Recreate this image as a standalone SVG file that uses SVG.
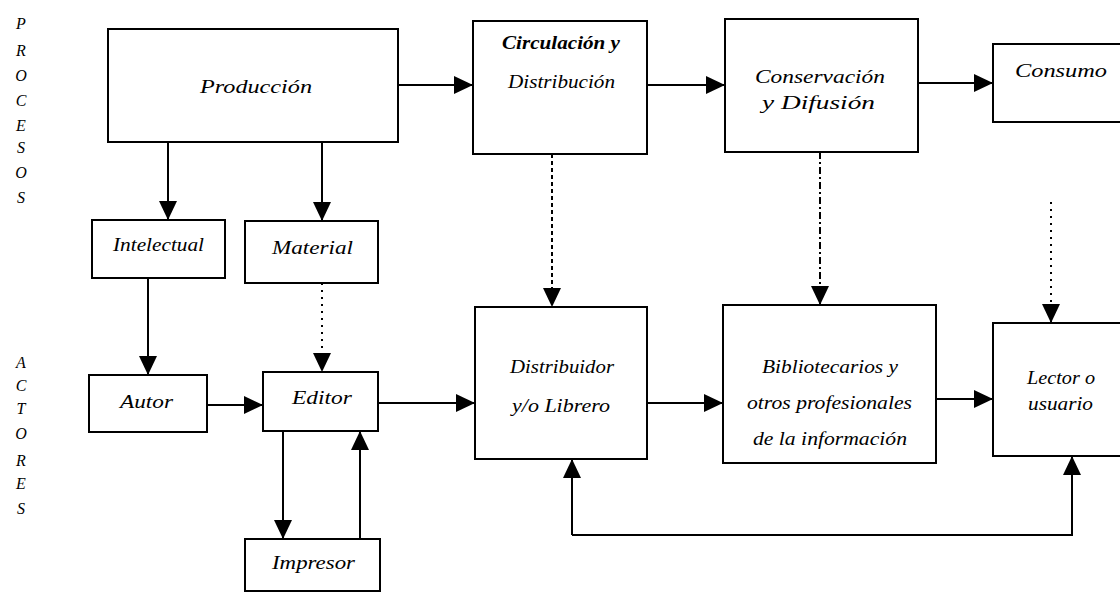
<svg xmlns="http://www.w3.org/2000/svg" width="1120" height="594" viewBox="0 0 1120 594">
<defs>
<marker id="arr" markerUnits="userSpaceOnUse" markerWidth="20" markerHeight="18" refX="19" refY="9" orient="auto">
<path d="M0,0 L19,9 L0,18 Z" fill="#000"/>
</marker>
<style>
.box{fill:#fff;stroke:#000;stroke-width:2}
.t{font-family:"Liberation Serif","Times New Roman",serif;font-style:italic;font-size:18px;fill:#000}
.side{font-family:"Liberation Serif","Times New Roman",serif;font-style:italic;font-size:16px;fill:#000;text-anchor:middle}
.ln{fill:none;stroke:#000;stroke-width:2}
.arr{marker-end:url(#arr)}
.d1{stroke-dasharray:4 3}
.d2{stroke-dasharray:7 3 2 3}
.d3{stroke-dasharray:2 5}
</style>
</defs>
<rect width="1120" height="594" fill="#fff"/>

<g id="side-procesos">
<text class="side" x="21" y="29">P</text>
<text class="side" x="21" y="56">R</text>
<text class="side" x="21" y="81">O</text>
<text class="side" x="21" y="106">C</text>
<text class="side" x="21" y="131">E</text>
<text class="side" x="21" y="153">S</text>
<text class="side" x="21" y="178">O</text>
<text class="side" x="21" y="203">S</text>
</g>
<g id="side-actores">
<text class="side" x="21" y="368">A</text>
<text class="side" x="21" y="391">C</text>
<text class="side" x="21" y="414">T</text>
<text class="side" x="21" y="439">O</text>
<text class="side" x="21" y="466">R</text>
<text class="side" x="21" y="489">E</text>
<text class="side" x="21" y="514">S</text>
</g>

<g id="connectors">
<path class="ln arr" d="M398,85 H473"/>
<path class="ln arr" d="M647,85 H725"/>
<path class="ln arr" d="M918,83 H993"/>
<path class="ln arr" d="M168,142 V220"/>
<path class="ln arr" d="M322,142 V221"/>
<path class="ln arr" d="M148,278 V375"/>
<path class="ln arr d3" d="M322,283 V372"/>
<path class="ln arr" d="M207,405 H263"/>
<path class="ln arr" d="M378,403 H475"/>
<path class="ln arr" d="M283,431 V539"/>
<path class="ln arr" d="M360,539 V431"/>
<path class="ln arr d1" d="M552,154 V307"/>
<path class="ln arr d2" d="M820,152 V305"/>
<path class="ln arr d3" d="M1051,202 V323"/>
<path class="ln arr" d="M647,403 H723"/>
<path class="ln arr" d="M936,399 H993"/>
<path class="ln arr" d="M572,535 V459"/>
<path class="ln arr" d="M572,535 H1072 V456"/>
</g>

<g id="n-produccion">
<rect class="box" x="108" y="29" width="290" height="113"/>
<text class="t" x="200" y="93" textLength="112" lengthAdjust="spacingAndGlyphs">Producción</text>
</g>
<g id="n-circulacion">
<rect class="box" x="473" y="21" width="174" height="133"/>
<text class="t" x="502" y="49" textLength="118" lengthAdjust="spacingAndGlyphs" font-weight="bold">Circulación y</text>
<text class="t" x="508" y="88" textLength="107" lengthAdjust="spacingAndGlyphs">Distribución</text>
</g>
<g id="n-conservacion">
<rect class="box" x="725" y="19" width="193" height="133"/>
<text class="t" x="755" y="83" textLength="130" lengthAdjust="spacingAndGlyphs">Conservación</text>
<text class="t" x="762" y="109" textLength="113" lengthAdjust="spacingAndGlyphs">y Difusión</text>
</g>
<g id="n-consumo">
<rect class="box" x="993" y="44" width="140" height="78"/>
<text class="t" x="1015" y="77" textLength="92" lengthAdjust="spacingAndGlyphs">Consumo</text>
</g>
<g id="n-intelectual">
<rect class="box" x="92" y="220" width="133" height="58"/>
<text class="t" x="113" y="251" textLength="91" lengthAdjust="spacingAndGlyphs">Intelectual</text>
</g>
<g id="n-material">
<rect class="box" x="245" y="221" width="133" height="62"/>
<text class="t" x="272" y="254" textLength="81" lengthAdjust="spacingAndGlyphs">Material</text>
</g>
<g id="n-autor">
<rect class="box" x="89" y="375" width="118" height="57"/>
<text class="t" x="120" y="408" textLength="53" lengthAdjust="spacingAndGlyphs">Autor</text>
</g>
<g id="n-editor">
<rect class="box" x="263" y="372" width="115" height="59"/>
<text class="t" x="292" y="404" textLength="60" lengthAdjust="spacingAndGlyphs">Editor</text>
</g>
<g id="n-impresor">
<rect class="box" x="245" y="539" width="135" height="52"/>
<text class="t" x="272" y="569" textLength="83" lengthAdjust="spacingAndGlyphs">Impresor</text>
</g>
<g id="n-distribuidor">
<rect class="box" x="475" y="307" width="172" height="152"/>
<text class="t" x="510" y="373" textLength="104" lengthAdjust="spacingAndGlyphs">Distribuidor</text>
<text class="t" x="512" y="412" textLength="98" lengthAdjust="spacingAndGlyphs">y/o Librero</text>
</g>
<g id="n-bibliotecarios">
<rect class="box" x="723" y="305" width="213" height="158"/>
<text class="t" x="762" y="373" textLength="136" lengthAdjust="spacingAndGlyphs">Bibliotecarios y</text>
<text class="t" x="747" y="409" textLength="165" lengthAdjust="spacingAndGlyphs">otros profesionales</text>
<text class="t" x="753" y="445" textLength="154" lengthAdjust="spacingAndGlyphs">de la información</text>
</g>
<g id="n-lector">
<rect class="box" x="993" y="323" width="140" height="133"/>
<text class="t" x="1027" y="384" textLength="68" lengthAdjust="spacingAndGlyphs">Lector o</text>
<text class="t" x="1028" y="410" textLength="65" lengthAdjust="spacingAndGlyphs">usuario</text>
</g>
</svg>
